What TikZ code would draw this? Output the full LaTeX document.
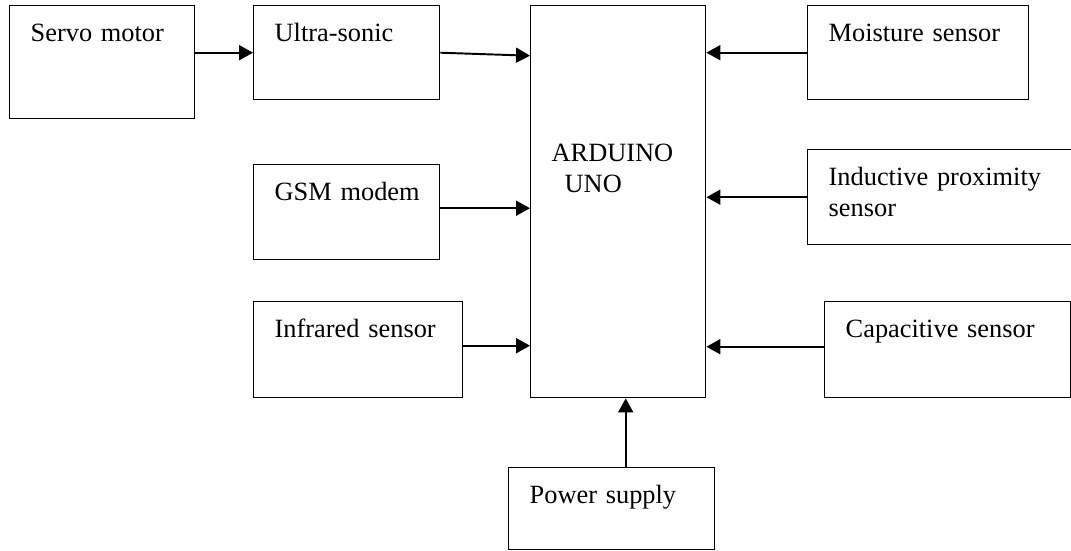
\documentclass[tikz,border=0pt]{standalone}
\usepackage{fontspec}
\setmainfont{Liberation Serif}
\usepackage{tikz}
\usetikzlibrary{arrows.meta,positioning,calc}
\tikzset{
	block/.style={draw, line width=0.8pt, rectangle, anchor=north west,
		align=left, inner sep=0pt, text height=7.2mm,
		execute at begin node={\leftskip=4.2mm},
		font=\fontsize{15}{17.5}\selectfont},
	arrow/.style={-{Triangle[length=2.8mm,width=3mm]}, line width=1.1pt}
}

\begin{document}
\begin{tikzpicture}[x=0.2mm, y=-0.2mm]
	\useasboundingbox (0,0) rectangle (1071,550);
	
	%% -- Controller in the middle
	\node[block, text width=35mm, text height=31.2mm, text depth=47.2mm]
	at (530,5) (arduino)
	{ARDUINO\\\hspace*{2.6mm}UNO};
	
	%% -- Left column
	\node[block, text width=37mm, text depth=15.4mm] at (9,5) (servo)
	{Servo motor};
	
	\node[block, text width=37.2mm, text depth=11.6mm] at (253,5) (ultra)
	{Ultra-sonic};
	
	\node[block, text width=37.2mm, text depth=11.8mm] at (253,164) (gsm)
	{GSM modem};
	
	\node[block, text width=41.8mm, text depth=12mm] at (253,301) (infra)
	{Infrared sensor};
	
	%% -- Right column
	\node[block, text width=44.2mm, text depth=11.6mm] at (807,5) (moist)
	{Moisture sensor};
	
	\node[block, text width=56mm, text depth=11.8mm] at (807,149) (induct)
	{Inductive proximity\\sensor};
	
	\node[block, text width=49.2mm, text depth=12mm] at (824,301) (capac)
	{Capacitive sensor};
	
	%% -- Supply below
	\node[block, text width=41.2mm, text depth=9.2mm] at (508,467) (power)
	{Power supply};
	
	%% -- Connections
	\draw[arrow] (servo.east |- ultra.west) -- (ultra.west);
	\draw[arrow] (ultra.east) -- ($(ultra.east -| arduino.west)+(0,3)$);
	\draw[arrow] ($(gsm.east)+(0,-4)$) -- ($(gsm.east -| arduino.west)+(0,-4)$);
	\draw[arrow] ($(infra.east)+(0,-4)$) -- ($(infra.east -| arduino.west)+(0,-4)$);
	
	\draw[arrow] (moist.west) -- (moist.west -| arduino.east);
	\draw[arrow] (induct.west) -- (induct.west -| arduino.east);
	\draw[arrow] ($(capac.west)+(0,-3)$) -- ($(capac.west -| arduino.east)+(0,-3)$);
	
	\draw[arrow] ($(power.north)+(14,0)$) coordinate (pw) -- (pw |- arduino.south);
	
\end{tikzpicture}
\end{document}
